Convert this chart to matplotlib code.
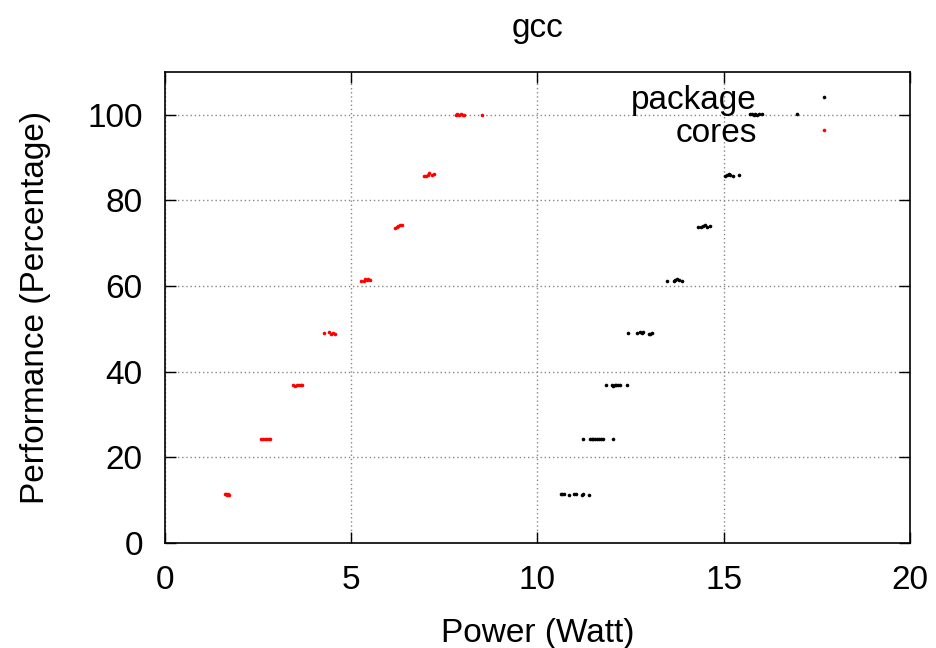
import matplotlib
matplotlib.use("Agg")
import matplotlib.pyplot as plt

plt.rcParams['font.family'] = ['Liberation Sans', 'DejaVu Sans']

# package (black) measurements: power (W) and performance (%)
pkg_x = [10.62, 10.67, 10.72, 10.85, 10.98, 11.03, 11.19, 11.23, 11.39,
         11.23, 11.41, 11.45, 11.50, 11.55, 11.60, 11.65, 11.70, 11.75, 12.02,
         11.83, 11.99, 12.03, 12.07, 12.10, 12.15, 12.21, 12.41,
         12.43, 12.66, 12.75, 12.80, 12.84, 12.98, 13.03, 13.07,
         13.48, 13.66, 13.70, 13.75, 13.80, 13.87,
         14.32, 14.38, 14.45, 14.50, 14.55, 14.63,
         15.03, 15.08, 15.13, 15.18, 15.26, 15.40,
         15.70, 15.75, 15.80, 15.85, 15.90, 15.95, 16.02, 16.96]
pkg_y = [11.5, 11.4, 11.5, 11.3, 11.4, 11.4, 11.3, 11.4, 11.3,
         24.4, 24.3, 24.2, 24.3, 24.4, 24.2, 24.3, 24.4, 24.3, 24.3,
         36.9, 36.8, 36.7, 36.9, 36.8, 36.9, 36.8, 36.9,
         49.1, 49.1, 49.3, 49.0, 49.2, 48.8, 48.9, 49.0,
         61.3, 61.3, 61.4, 61.6, 61.5, 61.2,
         73.7, 73.9, 74.0, 74.2, 73.9, 74.1,
         85.6, 85.9, 86.2, 86.0, 85.8, 86.0,
         100.1, 100.1, 100.0, 100.1, 100.0, 100.1, 100.1, 100.1]

# cores (red) measurements
core_x = [1.60, 1.64, 1.67, 1.70, 1.73,
          2.58, 2.63, 2.68, 2.73, 2.78, 2.82,
          3.44, 3.50, 3.55, 3.60, 3.65, 3.69,
          4.27, 4.40, 4.45, 4.50, 4.56,
          5.26, 5.33, 5.38, 5.42, 5.46, 5.49,
          6.17, 6.22, 6.26, 6.30, 6.35,
          6.95, 7.00, 7.05, 7.10, 7.17, 7.22,
          7.80, 7.85, 7.90, 7.95, 8.00, 8.04, 8.52]
core_y = [11.4, 11.5, 11.3, 11.4, 11.3,
          24.3, 24.4, 24.2, 24.3, 24.4, 24.3,
          36.8, 36.7, 36.9, 36.8, 37.0, 36.9,
          49.1, 49.2, 48.9, 49.0, 48.9,
          61.3, 61.2, 61.6, 61.4, 61.7, 61.5,
          73.5, 73.8, 74.0, 74.2, 74.3,
          85.6, 85.8, 86.0, 86.3, 86.0, 86.2,
          100.0, 100.1, 100.0, 100.1, 100.0, 100.0, 100.0]

x_ticks = [0, 5, 10, 15, 20]
y_ticks = [0, 20, 40, 60, 80, 100]

FS = 24

fig = plt.figure(figsize=(9.37, 6.48), dpi=100)
ax = fig.add_axes([165/937, 1 - 543/648, (910 - 165)/937, (543 - 72)/648])

ax.plot(pkg_x, pkg_y, 'o', color='black', markersize=2.6, markeredgewidth=0,
        label='package', zorder=3)
ax.plot(core_x, core_y, 'o', color='red', markersize=2.6, markeredgewidth=0,
        label='cores', zorder=3)

ax.set_xlim(0, 20)
ax.set_ylim(0, 110)
ax.set_xticks(x_ticks)
ax.set_yticks(y_ticks)
ax.grid(True, color='#888888', linestyle=(0, (1, 2)), linewidth=1.0)
ax.set_axisbelow(True)
ax.tick_params(direction='in', length=8, width=1, top=True, right=True,
               labelsize=FS)
ax.tick_params(axis='x', pad=16)
ax.tick_params(axis='y', pad=16)
for s in ax.spines.values():
    s.set_linewidth(1.2)

ax.set_xlabel('Power (Watt)', fontsize=FS, labelpad=16)
ax.set_ylabel('Performance (Percentage)', fontsize=FS, labelpad=26)
ax.set_title('gcc', fontsize=FS, pad=25)

leg = ax.legend(loc='upper right', frameon=False, markerfirst=False,
                fontsize=FS, handletextpad=1.0, labelspacing=0.05,
                borderaxespad=0, borderpad=0, handlelength=2.0,
                bbox_to_anchor=(857/937, 1 - 85/648),
                bbox_transform=fig.transFigure)

fig.savefig('out.png', dpi=100)
